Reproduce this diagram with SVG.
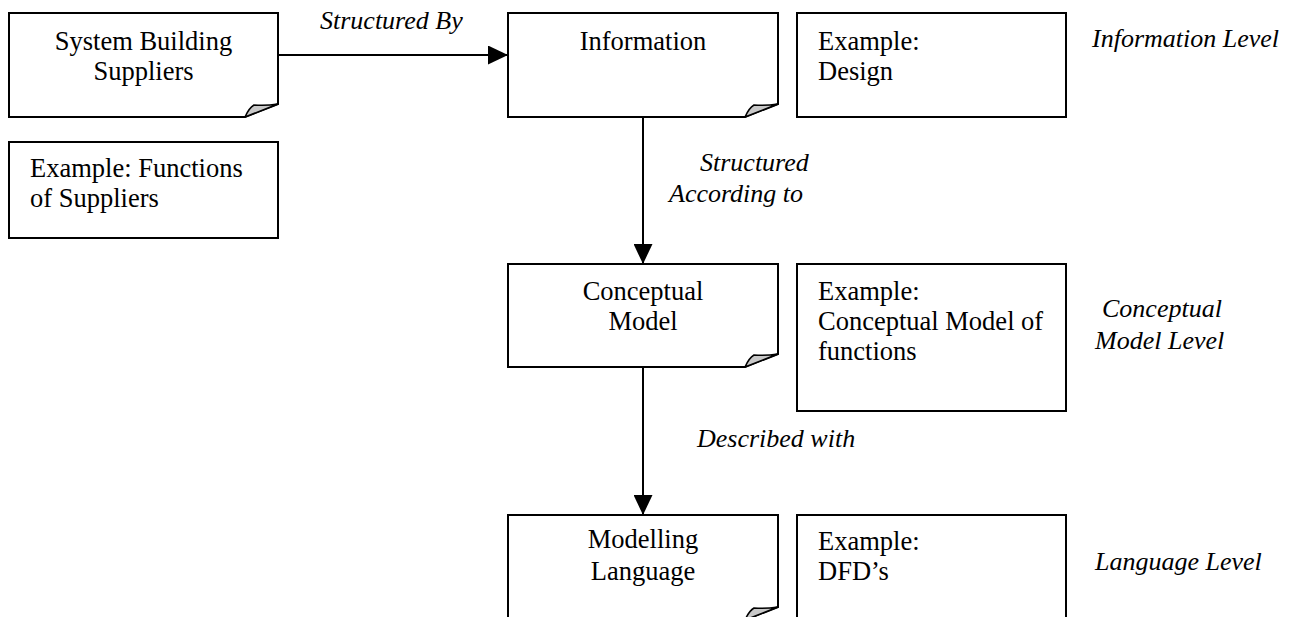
<svg xmlns="http://www.w3.org/2000/svg" width="1301" height="617" viewBox="0 0 1301 617">
  <style>
    .box { fill: #ffffff; stroke: #000000; stroke-width: 2; }
    .curl { fill: #c8c8c8; stroke: #000000; stroke-width: 1.5; stroke-linejoin: round; }
    .t { font-family: "Liberation Serif", "Times New Roman", serif; font-size: 26.5px; fill: #000000; }
    .c { text-anchor: middle; }
    .i { font-style: italic; font-size: 26px; }
    .link { stroke: #000000; stroke-width: 2; fill: none; marker-end: url(#head); }
  </style>
  <defs>
    <marker id="head" markerWidth="20" markerHeight="19" refX="20" refY="9.5" orient="auto" markerUnits="userSpaceOnUse">
      <path d="M0,0 L20,9.5 L0,19 Z" fill="#000000"/>
    </marker>
  </defs>
  <rect width="1301" height="617" fill="#ffffff"/>

  <!-- connectors -->
  <g id="connectors">
    <line class="link" x1="278" y1="55" x2="508" y2="55"/>
    <line class="link" x1="643" y1="117" x2="643" y2="264"/>
    <line class="link" x1="643" y1="367" x2="643" y2="515"/>
    <text class="t i" x="320" y="29">Structured By</text>
    <text class="t i" x="700" y="171">Structured</text>
    <text class="t i" x="669" y="202">According to</text>
    <text class="t i" x="697" y="447">Described with</text>
  </g>

  <!-- folded-corner document nodes -->
  <g id="suppliers">
    <path class="box" d="M9,13 H278 V104 L245,117 H9 Z"/>
    <path class="curl" d="M245,117 Q249,108 254,105 Q266,106 278,104 Z"/>
    <text class="t c" x="143.5" y="50">System Building</text>
    <text class="t c" x="143.5" y="80">Suppliers</text>
  </g>
  <g id="information">
    <path class="box" d="M508,13 H778 V104 L745,117 H508 Z"/>
    <path class="curl" d="M745,117 Q749,108 754,105 Q766,106 778,104 Z"/>
    <text class="t c" x="643" y="50">Information</text>
  </g>
  <g id="conceptual-model">
    <path class="box" d="M508,264 H778 V354 L745,367 H508 Z"/>
    <path class="curl" d="M745,367 Q749,358 754,355 Q766,356 778,354 Z"/>
    <text class="t c" x="643" y="300">Conceptual</text>
    <text class="t c" x="643" y="330">Model</text>
  </g>
  <g id="modelling-language">
    <path class="box" d="M508,515 H778 V607 L745,620 H508 Z"/>
    <path class="curl" d="M745,620 Q749,611 754,608 Q766,609 778,607 Z"/>
    <text class="t c" x="643" y="548">Modelling</text>
    <text class="t c" x="643" y="580">Language</text>
  </g>

  <!-- example boxes -->
  <g id="example-functions">
    <rect class="box" x="9" y="142" width="269" height="96"/>
    <text class="t" x="30" y="177">Example: Functions</text>
    <text class="t" x="30" y="207">of Suppliers</text>
  </g>
  <g id="example-design">
    <rect class="box" x="797" y="13" width="269" height="104"/>
    <text class="t" x="818" y="50">Example:</text>
    <text class="t" x="818" y="80">Design</text>
  </g>
  <g id="example-conceptual">
    <rect class="box" x="797" y="264" width="269" height="147"/>
    <text class="t" x="818" y="300">Example:</text>
    <text class="t" x="818" y="330">Conceptual Model of</text>
    <text class="t" x="818" y="360">functions</text>
  </g>
  <g id="example-dfd">
    <rect class="box" x="797" y="515" width="269" height="110"/>
    <text class="t" x="818" y="550">Example:</text>
    <text class="t" x="818" y="580">DFD’s</text>
  </g>

  <!-- level labels -->
  <g id="levels">
    <text class="t i" x="1092" y="47">Information Level</text>
    <text class="t i" x="1102" y="317">Conceptual</text>
    <text class="t i" x="1095" y="349">Model Level</text>
    <text class="t i" x="1095" y="570">Language Level</text>
  </g>
</svg>
